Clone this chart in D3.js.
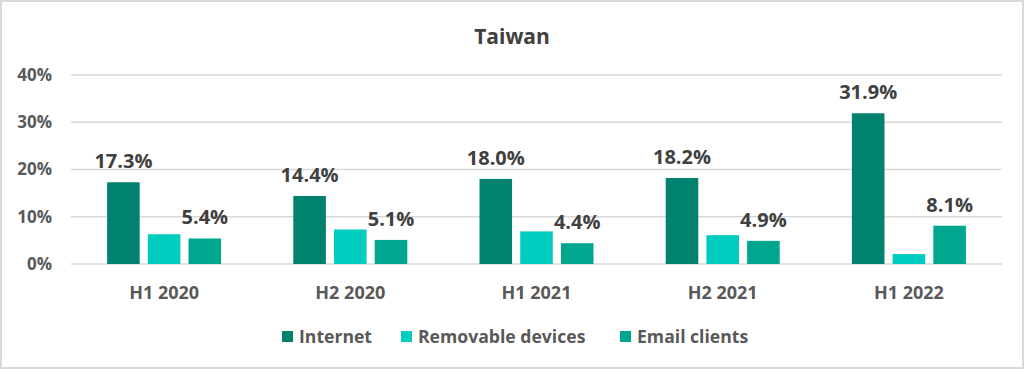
<!DOCTYPE html>
<html>
<head>
<meta charset="utf-8">
<script src="https://cdn.jsdelivr.net/npm/d3@7"></script>
<style>
  html, body { margin: 0; padding: 0; background: #fff; }
  svg { display: block; font-family: "Open Sans", sans-serif; }
</style>
</head>
<body>
<svg width="1024" height="369"></svg>
<script>
var periods = ['H1 2020', 'H2 2020', 'H1 2021', 'H2 2021', 'H1 2022']
var seriesNames = ['Internet', 'Removable devices', 'Email clients']
var internet = [17.3, 14.4, 18.0, 18.2, 31.9]
var removable = [6.3, 7.3, 6.9, 6.1, 2.1]
var email = [5.4, 5.1, 4.4, 4.9, 8.1]
var yTicks = [0, 10, 20, 30, 40]
var colors = ['#00826f', '#00ccbf', '#00a68d']
var labelled = [true, false, true]

var svg = d3.select('svg')
var width = 1024
var height = 369
var margin = {top: 75, right: 22, bottom: 105, left: 71}
var font = '"Open Sans", sans-serif'

svg.append('rect')
  .attr('x', 1).attr('y', 1)
  .attr('width', width - 2).attr('height', height - 2)
  .attr('fill', '#fff')
  .attr('stroke', '#d9d9d9')
  .attr('stroke-width', 2)

svg.append('text')
  .attr('x', width / 2).attr('y', 44)
  .attr('text-anchor', 'middle')
  .attr('font-size', 21).attr('font-weight', 'bold')
  .attr('fill', '#404040')
  .text('Taiwan')

var values = [internet, removable, email]

var x = d3.scaleBand()
  .domain(periods)
  .range([margin.left, width - margin.right])

var x1 = d3.scaleBand()
  .domain(d3.range(seriesNames.length))
  .range([0, 114])
  .paddingInner(0.2)

var y = d3.scaleLinear()
  .domain([0, 40])
  .range([height - margin.bottom, margin.top])

// gridlines
svg.append('g')
  .selectAll('line').data(yTicks).enter().append('line')
  .attr('x1', margin.left).attr('x2', width - margin.right)
  .attr('y1', d => y(d)).attr('y2', d => y(d))
  .attr('stroke', '#d9d9d9')
  .attr('stroke-width', 1.5)

var yAxis = svg.append('g')
  .attr('transform', `translate(${margin.left}, 0)`)
  .call(d3.axisLeft(y).tickValues(yTicks).tickFormat(d => d + '%').tickSize(0).tickPadding(19))
yAxis.select('.domain').remove()
yAxis.selectAll('text')
  .attr('font-size', 17).attr('font-weight', 'bold')
  .attr('fill', '#595959')
  .attr('font-family', font)

var xAxis = svg.append('g')
  .attr('transform', `translate(0, ${y(0)})`)
  .call(d3.axisBottom(x).tickSize(0).tickPadding(22))
xAxis.select('.domain').remove()
xAxis.selectAll('text')
  .attr('font-size', 18).attr('font-weight', 'bold')
  .attr('fill', '#595959')
  .attr('font-family', font)

var groups = svg.append('g')
  .selectAll('g').data(periods).enter().append('g')
  .attr('transform', d => `translate(${x(d) + x.bandwidth() / 2 - 57}, 0)`)

groups.each(function(p, i) {
  var g = d3.select(this)
  seriesNames.forEach(function(s, j) {
    var v = values[j][i]
    g.append('rect')
      .attr('x', x1(j))
      .attr('y', y(v))
      .attr('width', x1.bandwidth())
      .attr('height', y(0) - y(v))
      .attr('fill', colors[j])
    if (labelled[j]) {
      g.append('text')
        .attr('x', x1(j) + x1.bandwidth() / 2)
        .attr('y', y(v) - 14)
        .attr('text-anchor', 'middle')
        .attr('font-size', 20).attr('font-weight', 'bold')
        .attr('fill', '#404040')
        .text(v.toFixed(1) + '%')
    }
  })
})

// legend
var legendX = [282, 401, 620]
var legend = svg.append('g')
  .selectAll('g').data(seriesNames).enter().append('g')
  .attr('transform', (d, i) => `translate(${legendX[i]}, 331)`)
legend.append('rect')
  .attr('width', 11).attr('height', 11)
  .attr('fill', (d, i) => colors[i])
legend.append('text')
  .attr('x', 17).attr('y', 12)
  .attr('font-size', 17.6).attr('font-weight', 'bold')
  .attr('fill', '#595959')
  .text(d => d)
</script>
</body>
</html>
